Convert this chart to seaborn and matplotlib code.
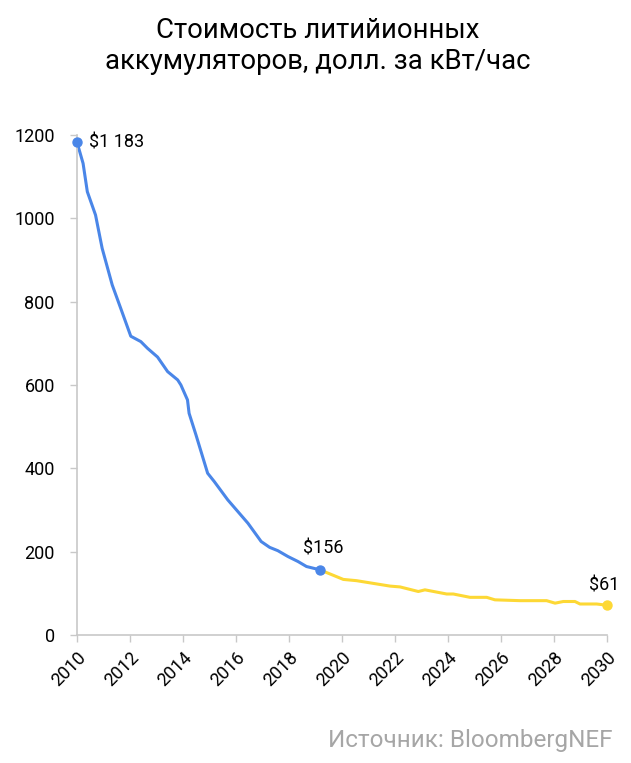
import pandas as pd
import matplotlib.pyplot as plt
import seaborn as sns

# Historical prices (blue) and forecast (yellow), USD per kWh
hist_years = [2010.0, 2010.23, 2010.39, 2010.70, 2010.95, 2011.33, 2011.65, 2012.03,
              2012.41, 2012.66, 2013.04, 2013.42, 2013.80, 2013.92, 2014.17, 2014.23,
              2014.49, 2014.93, 2015.18, 2015.69, 2016.45, 2016.95, 2017.27, 2017.58,
              2017.96, 2018.34, 2018.66, 2019.17]
hist_price = [1183, 1132, 1064, 1008, 928, 840, 784, 717,
              704, 688, 667, 632, 612, 600, 564, 532,
              480, 388, 368, 324, 268, 224, 210, 202,
              188, 176, 164, 156]

fc_years = [2019.17, 2020.05, 2020.55, 2021.81, 2022.19, 2022.88, 2023.13, 2023.95,
            2024.20, 2024.83, 2025.46, 2025.77, 2026.72, 2027.72, 2028.04, 2028.35,
            2028.79, 2028.98, 2029.61, 2030.0]
fc_price = [156, 133, 130, 117, 115, 104, 108, 98,
            98, 90, 90, 84, 82, 82, 76, 80,
            80, 74, 74, 71]

labels = ['$1 183', '$156', '$61']
x_ticks = list(range(2010, 2031, 2))
y_ticks = [0, 200, 400, 600, 800, 1000, 1200]

BLUE = '#4A86E8'
YELLOW = '#FDD835'

sns.set_theme(style="white")
plt.rcParams['font.family'] = ['Roboto', 'DejaVu Sans']
plt.rcParams['text.color'] = 'black'

df_hist = pd.DataFrame({'year': hist_years, 'price': hist_price})
df_fc = pd.DataFrame({'year': fc_years, 'price': fc_price})

fig = plt.figure(figsize=(6.31, 7.63), dpi=100)
ax = fig.add_axes([0.122, 0.168, 0.840, 0.655])

sns.lineplot(data=df_fc, x='year', y='price', color=YELLOW, lw=2.2, ax=ax)
sns.lineplot(data=df_hist, x='year', y='price', color=BLUE, lw=2.2, ax=ax)

# маркеры на концах
ax.scatter([hist_years[0], hist_years[-1]], [hist_price[0], hist_price[-1]],
           s=42, color=BLUE, zorder=5, clip_on=False)
ax.scatter([fc_years[-1]], [fc_price[-1]], s=42, color=YELLOW, zorder=5, clip_on=False)

ax.annotate(labels[0], (hist_years[0], hist_price[0]), xytext=(9, 0),
            textcoords='offset points', fontsize=13, va='center', ha='left', color='black')
ax.annotate(labels[1], (hist_years[-1], hist_price[-1]), xytext=(2, 9),
            textcoords='offset points', fontsize=13, va='bottom', ha='center', color='black')
ax.annotate(labels[2], (fc_years[-1], fc_price[-1]), xytext=(-2, 8),
            textcoords='offset points', fontsize=13, va='bottom', ha='center', color='black')

ax.set_xlim(2010, 2030)
ax.set_ylim(0, 1200)
ax.set_xticks(x_ticks)
ax.set_xticklabels([str(t) for t in x_ticks], rotation=45, ha='right',
                   rotation_mode='anchor', fontsize=13)
ax.set_yticks(y_ticks)
ax.set_yticklabels([str(t) for t in y_ticks], fontsize=13)
ax.set_xlabel('')
ax.set_ylabel('')

sns.despine(ax=ax)
for side in ['left', 'bottom']:
    ax.spines[side].set_color('#C8C8C8')
    ax.spines[side].set_linewidth(1.2)
ax.tick_params(axis='both', which='both', direction='out', length=5, width=1,
               color='#C8C8C8', labelcolor='black', left=True, bottom=True)
ax.tick_params(axis='y', pad=11)
ax.tick_params(axis='x', pad=5)

fig.text(0.504, 0.978, 'Стоимость литийионных\nаккумуляторов, долл. за кВт/час',
         ha='center', va='top', fontsize=19.8, linespacing=1.22, color='black')
fig.text(0.970, 0.014, 'Источник: BloombergNEF', ha='right', va='bottom',
         fontsize=17.5, color='#A6A6A6')

fig.savefig('out.png', dpi=100)
